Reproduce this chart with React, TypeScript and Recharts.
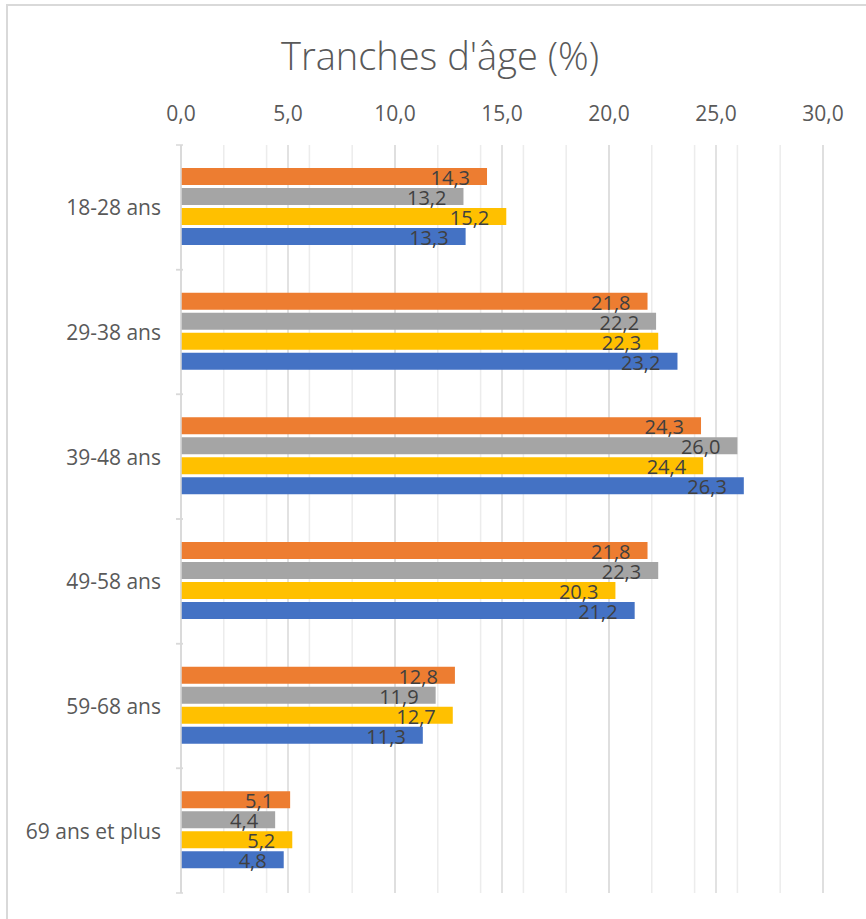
import { BarChart, Bar, XAxis, YAxis, CartesianGrid, LabelList } from "recharts";

const ageGroups = ["18-28 ans", "29-38 ans", "39-48 ans", "49-58 ans", "59-68 ans", "69 ans et plus"];
const serieA = [14.3, 21.8, 24.3, 21.8, 12.8, 5.1];
const serieB = [13.2, 22.2, 26.0, 22.3, 11.9, 4.4];
const serieC = [15.2, 22.3, 24.4, 20.3, 12.7, 5.2];
const serieD = [13.3, 23.2, 26.3, 21.2, 11.3, 4.8];
const majorTicks = [0, 5, 10, 15, 20, 25, 30];
const minorTicks = Array.from({ length: 31 }, (_, i) => i);

const data = ageGroups.map((age, i) => ({
  age,
  a: serieA[i],
  b: serieB[i],
  c: serieC[i],
  d: serieD[i],
}));

const series = [
  { key: "a", color: "#ED7D31" },
  { key: "b", color: "#A5A5A5" },
  { key: "c", color: "#FFC000" },
  { key: "d", color: "#4472C4" },
];

const FONT = "'Open Sans', sans-serif";
const W = 866;
const H = 919;
const MARGIN = { top: 115, right: 43, bottom: 26, left: 0 };
const PLOT_H = H - MARGIN.top - 30 - MARGIN.bottom;
const BAND = PLOT_H / ageGroups.length;

const fmt = (v: number) => v.toFixed(1).replace(".", ",");

const AgeTick = (props: any) => {
  const { x, y, payload } = props;
  return (
    <g>
      <text
        x={x - 14}
        y={y}
        textAnchor="end"
        dominantBaseline="central"
        fill="#595959"
        fontSize={21}
        fontFamily={FONT}
      >
        {payload.value}
      </text>
      <line x1={x + 1} x2={x + 8} y1={y - BAND / 2} y2={y - BAND / 2} stroke="#d9d9d9" strokeWidth={1.5} />
      <line x1={x + 1} x2={x + 8} y1={y + BAND / 2} y2={y + BAND / 2} stroke="#d9d9d9" strokeWidth={1.5} />
    </g>
  );
};

const ValueLabel = (props: any) => {
  const { x, y, width, height, value } = props;
  return (
    <text
      x={x + width - 17}
      y={y + height / 2 + 1}
      textAnchor="end"
      dominantBaseline="central"
      fill="#404040"
      fontSize={20}
      fontFamily={FONT}
    >
      {fmt(value)}
    </text>
  );
};

export default function App() {
  return (
    <div style={{ position: "relative", width: W, height: H, background: "#fff", overflow: "hidden" }}>
      <style>{`body{margin:0}`}</style>
      <div
        style={{
          position: "absolute",
          left: 6,
          top: 4,
          width: W,
          height: H,
          border: "2px solid #d9d9d9",
          boxSizing: "border-box",
        }}
      />
      <div
        style={{
          position: "absolute",
          top: 29,
          left: 7,
          width: W,
          textAlign: "center",
          fontFamily: FONT,
          fontSize: 38,
          fontWeight: 300,
          color: "#595959",
        }}
      >
        Tranches d'âge (%)
      </div>
      <div style={{ position: "absolute", left: 0, top: 0 }}>
        <BarChart
          width={W}
          height={H}
          data={data}
          layout="vertical"
          margin={MARGIN}
          barCategoryGap={23}
          barGap={3}
        >
          <CartesianGrid horizontal={false} verticalValues={minorTicks} stroke="#ececec" strokeWidth={1.5} />
          <CartesianGrid horizontal={false} verticalValues={majorTicks} stroke="#d9d9d9" strokeWidth={1.5} />
          <XAxis
            type="number"
            orientation="top"
            domain={[0, 30]}
            ticks={majorTicks}
            tickFormatter={fmt}
            axisLine={false}
            tickLine={false}
            tickMargin={18}
            tick={{ fill: "#595959", fontSize: 21, fontFamily: FONT }}
          />
          <YAxis
            type="category"
            dataKey="age"
            width={181}
            axisLine={{ stroke: "#d9d9d9", strokeWidth: 1.5 }}
            tickLine={false}
            tickMargin={0}
            tick={<AgeTick />}
          />
          {series.map((s) => (
            <Bar key={s.key} dataKey={s.key} fill={s.color} isAnimationActive={false}>
              <LabelList dataKey={s.key} content={<ValueLabel />} />
            </Bar>
          ))}
        </BarChart>
      </div>
    </div>
  );
}
